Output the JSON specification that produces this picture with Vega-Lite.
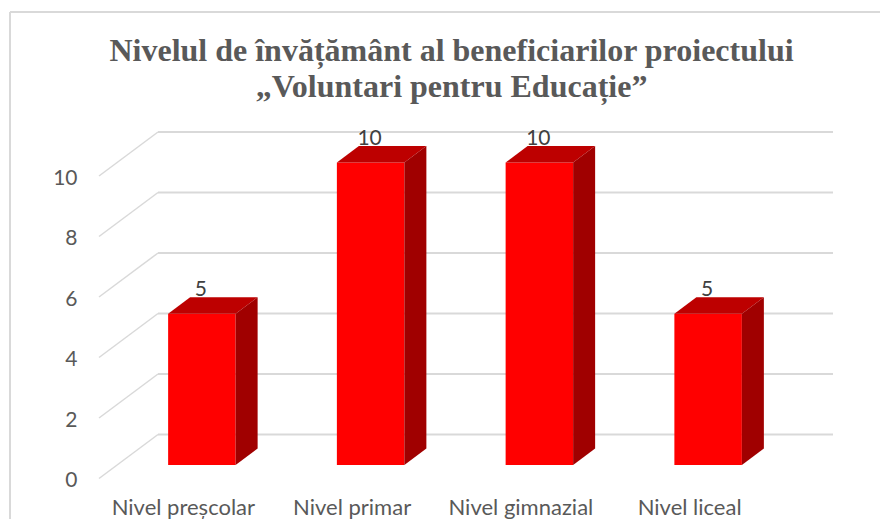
{
"$schema":"https://vega.github.io/schema/vega-lite/v6.json",
"width":675,"height":302.5,
"autosize":{"type":"none"},
"padding":{"left":99,"top":176,"right":106,"bottom":40.5},
"background":"white",
"view":{"stroke":null},
"title":{"text":["Nivelul de învățământ al beneficiarilor proiectului","„Voluntari pentru Educație”"],"font":"Liberation Serif","fontSize":32,"fontWeight":"bold","color":"#595959","anchor":"middle","frame":"group","dx":15,"offset":-118,"lineHeight":36,"baseline":"alphabetic"},
"datasets":{
"bars":[{"nivel":"Nivel preșcolar","valoare":5},{"nivel":"Nivel primar","valoare":10},{"nivel":"Nivel gimnazial","valoare":10},{"nivel":"Nivel liceal","valoare":5}],
"grid":[{"g":0},{"g":2},{"g":4},{"g":6},{"g":8},{"g":10}]
},
"data":{"name":"bars"},
"encoding":{
"x":{"field":"nivel","type":"nominal","sort":null,"scale":{"paddingInner":0.6,"paddingOuter":0.3},"axis":{"title":null,"domain":false,"ticks":false,"labelAngle":0,"labelFont":"Lato","labelFontSize":22,"labelColor":"#595959","labelPadding":18.5,"labelFontWeight":"normal"}}
},
"layer":[
{"data":{"name":"grid"},"mark":{"type":"rule","stroke":"#d9d9d9","strokeWidth":2,"xOffset":59,"x2Offset":59,"yOffset":-44},
 "encoding":{"x":{"value":0},"x2":{"value":675},"y":{"field":"g","type":"quantitative","scale":{"domain":[0,10],"nice":false},"axis":{"title":null,"values":[0,2,4,6,8,10],"domain":false,"ticks":false,"grid":false,"labelFont":"Lato","labelFontSize":21,"labelColor":"#595959","labelPadding":22,"labelOffset":2}}}},
{"data":{"name":"grid"},"mark":{"type":"point","filled":false,"size":4,"stroke":"#d9d9d9","strokeWidth":1.5,"opacity":1,"shape":"M0 0L59 -44"},
 "encoding":{"x":{"value":0},"y":{"field":"g","type":"quantitative"}}},
{"mark":{"type":"bar","color":"#ff0000","xOffset":18.5,"x2Offset":18.5,"yOffset":-13.5,"y2Offset":-13.5},
 "encoding":{"y":{"field":"valoare","type":"quantitative"}}},
{"mark":{"type":"point","filled":true,"size":4,"opacity":1,"color":"#bd0000","strokeWidth":0,"xOffset":18.5,"yOffset":-13.5,"shape":"M-33.75 0L33.75 0L55.75 -16.5L-11.75 -16.5Z"},
 "encoding":{"y":{"field":"valoare","type":"quantitative"}}},
{"mark":{"type":"point","filled":true,"size":4,"opacity":1,"color":"#a00000","strokeWidth":0,"xOffset":18.5,"yOffset":-13.5},
 "encoding":{"y":{"field":"valoare","type":"quantitative"},
 "shape":{"field":"valoare","type":"nominal","legend":null,"scale":{"domain":[5,10],"range":["M33.75 0L55.75 -16.5L55.75 134.75L33.75 151.25Z","M33.75 0L55.75 -16.5L55.75 286L33.75 302.5Z"]}}}},
{"mark":{"type":"text","font":"Lato","fontSize":21,"color":"#404040","baseline":"alphabetic","align":"center","dx":17.5,"dy":-31},
 "encoding":{"y":{"field":"valoare","type":"quantitative"},"text":{"field":"valoare","type":"quantitative"}}},
{"mark":{"type":"rule","stroke":"#d9d9d9","strokeWidth":1.5},"encoding":{"x":{"value":-89},"x2":{"value":781},"y":{"value":-164}}},
{"mark":{"type":"rule","stroke":"#d9d9d9","strokeWidth":1.5},"encoding":{"x":{"value":-89},"y":{"value":-164},"y2":{"value":343}}}
]
}
